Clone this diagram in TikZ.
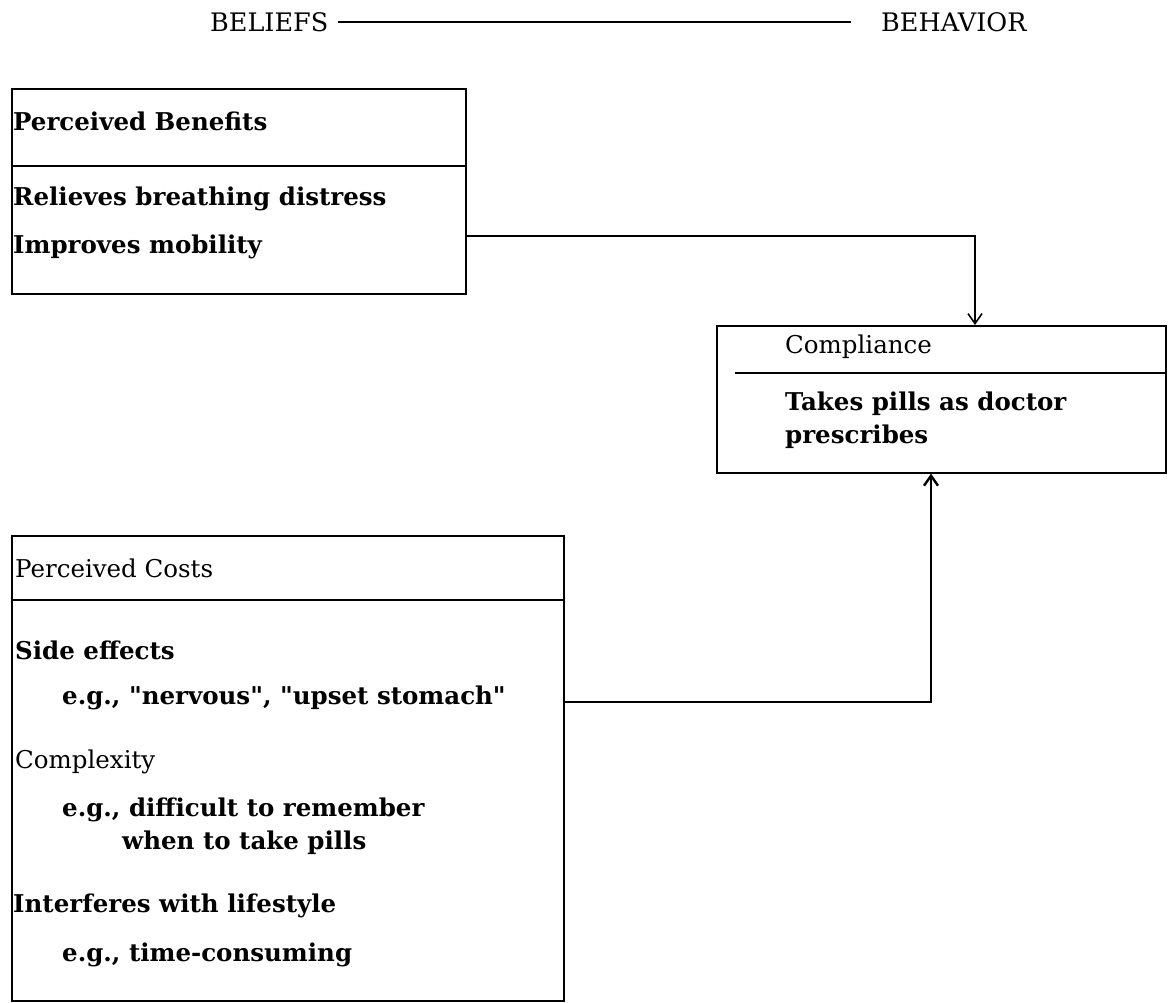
\documentclass[tikz,border=0pt]{standalone}
\usepackage{fontspec}
\setmainfont{DejaVu Serif}[Ligatures=TeXOff]
\usetikzlibrary{arrows.meta}
\tikzset{
  box/.style={draw, line width=1.6pt, rectangle, anchor=north west, inner sep=0pt},
  divider/.style={line width=1.5pt},
  conn/.style={line width=1.6pt},
  bt/.style={anchor=west, inner sep=0pt, font=\fontsize{24.5}{29}\selectfont\bfseries},
  rt/.style={anchor=west, inner sep=0pt, font=\fontsize{24.5}{29}\selectfont},
  ht/.style={anchor=west, inner sep=0pt, font=\fontsize{25.5}{29}\selectfont},
}
\begin{document}
\begin{tikzpicture}[x=1pt,y=-1pt]
\useasboundingbox (0,0) rectangle (1173,1003);
% header
\node[ht] (bel) at (210,22) {BELIEFS};
\node[ht] (beh) at (881,22) {BEHAVIOR};
\coordinate (hl) at (338,22);
\coordinate (hr) at (851,22);
\draw[line width=1.5pt] (hl) -- (hr);
% boxes
\node[box, minimum width=454pt, minimum height=205pt] (ben) at (11,88) {};
\node[box, minimum width=449pt, minimum height=147pt] (comp) at (716,325) {};
\node[box, minimum width=552pt, minimum height=465pt] (cost) at (11,535) {};
% dividers
\coordinate (d1) at (10,166);
\draw[divider] (ben.west |- d1) -- (ben.east |- d1);
\coordinate (d2) at (735,373);
\draw[divider] (d2) -- (comp.east |- d2);
\coordinate (d3) at (10,600);
\draw[divider] (cost.west |- d3) -- (cost.east |- d3);
% benefits text
\node[bt] (b0) at (13,121) {Perceived Benefits};
\node[bt] (b1) at (13,199) {Relieves breathing distress};
\node[bt] (b2) at (13,247) {Improves mobility};
% compliance text
\node[rt] (c0) at (785,347) {Compliance};
\node[bt] (c1) at (785,404) {Takes pills as doctor};
\node[bt] (c2) at (785,437) {prescribes};
% costs text
\node[rt] (k0) at (15,568) {Perceived Costs};
\node[bt] (k1) at (15,650) {Side effects};
\node[bt] (k2) at (62,698) {e.g., "nervous", "upset stomach"};
\node[rt] (k3) at (15,762) {Complexity};
\node[bt] (k4) at (62,810) {e.g., difficult to remember};
\node[bt] (k5) at (122,843) {when to take pills};
\node[bt] (k6) at (13,906) {Interferes with lifestyle};
\node[bt] (k7) at (62,955) {e.g., time-consuming};
% connectors
\coordinate (j1) at (975,236);
\draw[conn, -{Straight Barb[length=10pt, width=14pt, line width=1.6pt]}] (ben.east |- j1) -| (comp.north -| j1);
\coordinate (j2) at (931,702);
\draw[conn, -{Straight Barb[length=10pt, width=14pt, line width=2.4pt]}] (cost.east |- j2) -| (comp.south -| j2);
\end{tikzpicture}
\end{document}
